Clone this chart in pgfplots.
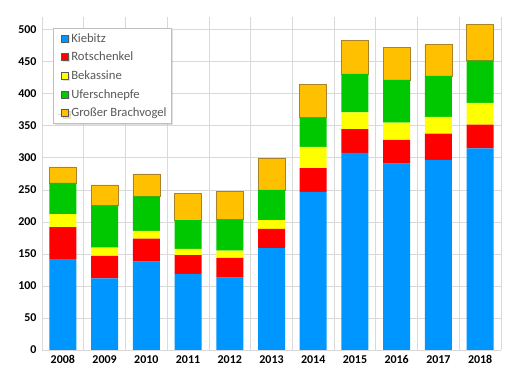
\documentclass[border=0pt]{standalone}
\usepackage{pgfplots}
\pgfplotsset{compat=1.18}
\usepackage{fontspec}
\setmainfont{Carlito}
\usetikzlibrary{shadows}
\definecolor{cK}{RGB}{0,150,255}
\definecolor{cR}{RGB}{255,0,0}
\definecolor{cB}{RGB}{255,255,0}
\definecolor{cU}{RGB}{0,200,0}
\definecolor{cG}{RGB}{255,192,0}
\definecolor{gridc}{RGB}{217,217,217}
\definecolor{legtext}{RGB}{89,89,89}
\begin{document}
\begin{tikzpicture}
\useasboundingbox (-42bp,-33bp) rectangle (474bp,350bp);
\begin{axis}[
  scale only axis,
  width=459bp, height=333bp,
  anchor=south west, at={(0,0)},
  xmin=-0.5, xmax=10.5,
  ymin=0, ymax=520,
  ybar stacked,
  bar width=27bp,
  xtick={0,...,10},
  xticklabels={2008,2009,2010,2011,2012,2013,2014,2015,2016,2017,2018},
  minor xtick={-0.5,0.5,...,10.5},
  ytick={0,50,...,500},
  xminorgrids=true, ymajorgrids=true, xmajorgrids=false,
  grid style={gridc, line width=0.8bp},
  minor grid style={gridc, line width=0.8bp},
  axis line style={draw=none},
  major tick length=0pt, minor tick length=0pt,
  tick style={draw=none},
  /pgf/number format/assume math mode=true,
  ticklabel style={font=\fontsize{12}{14}\selectfont\bfseries, text=black},
  yticklabel style={xshift=-2bp},
  xticklabel style={yshift=-2bp},
  legend style={at={(axis cs:-0.5,520)}, anchor=north west, xshift=11bp, yshift=-11bp,
    draw=gray!50, fill=white, line width=0.6bp,
    font=\fontsize{12.7}{15}\selectfont, text=legtext,
    row sep=4.4bp, inner xsep=3bp, inner ysep=3bp,
    drop shadow={opacity=0.25, shadow xshift=1.5bp, shadow yshift=-1.5bp},
    legend cell align=left},
  legend image code/.code={\path[draw=none,fill=none] (-5bp,0) -- (8bp,0);\draw[#1, draw=gray!70!black, line width=0.3bp] (0bp,-3.5bp) rectangle (7bp,3.5bp);},
  legend cell align=left,
]
\addplot[fill=cK, draw=none] coordinates {(0,142) (1,112) (2,138) (3,119) (4,113) (5,159) (6,247) (7,308) (8,291) (9,297) (10,315)};
\addplot[fill=cR, draw=none] coordinates {(0,50) (1,35) (2,36) (3,29) (4,31) (5,30) (6,37) (7,37) (8,37) (9,41) (10,37)};
\addplot[fill=cB, draw=none] coordinates {(0,20) (1,13) (2,12) (3,10) (4,11) (5,14) (6,33) (7,26) (8,27) (9,26) (10,34)};
\addplot[fill=cU, draw=none] coordinates {(0,49) (1,66) (2,54) (3,45) (4,49) (5,47) (6,46) (7,60) (8,67) (9,64) (10,66)};
\addplot[fill=cG, draw={rgb,255:red,170;green,130;blue,40}, line width=0.5bp] coordinates {(0,25) (1,32) (2,35) (3,42) (4,44) (5,50) (6,52) (7,52) (8,50) (9,49) (10,56)};
\legend{Kiebitz,Rotschenkel,Bekassine,Uferschnepfe,Großer Brachvogel}
\end{axis}
\end{tikzpicture}
\end{document}
